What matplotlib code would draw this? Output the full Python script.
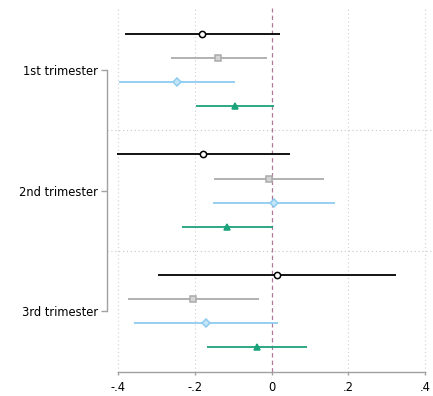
import matplotlib.pyplot as plt
import numpy as np

# coefficient plot, 3 trimesters x 4 models
groups = ['1st trimester', '2nd trimester', '3rd trimester']
offsets = [-0.3, -0.1, 0.1, 0.3]

est_m1 = [-0.180, -0.178, 0.015]
lo_m1 = [-0.382, -0.403, -0.295]
hi_m1 = [0.022, 0.048, 0.324]

est_m2 = [-0.139, -0.007, -0.204]
lo_m2 = [-0.263, -0.150, -0.373]
hi_m2 = [-0.012, 0.137, -0.034]

est_m3 = [-0.247, 0.006, -0.171]
lo_m3 = [-0.397, -0.153, -0.357]
hi_m3 = [-0.095, 0.165, 0.016]

est_m4 = [-0.096, -0.116, -0.038]
lo_m4 = [-0.197, -0.234, -0.167]
hi_m4 = [0.005, 0.003, 0.093]

xticks = [-0.4, -0.2, 0, 0.2, 0.4]
xticklabels = ['-.4', '-.2', '0', '.2', '.4']

series = [
    (est_m1, lo_m1, hi_m1, 'black', 'o', 'white'),
    (est_m2, lo_m2, hi_m2, '#ababab', 's', '#d4d4d4'),
    (est_m3, lo_m3, hi_m3, '#8dcbf1', 'D', '#c5e5f8'),
    (est_m4, lo_m4, hi_m4, '#1ba37b', '^', '#1ba37b'),
]

fig = plt.figure(figsize=(4.33, 3.96), dpi=100)
ax = fig.add_axes([0.247, 0.0606, 0.753, 0.919])

# grid
for xv in xticks:
    if xv != 0:
        ax.axvline(xv, color='#d0d0d0', lw=0.8, ls=(0, (1, 2.5)), zorder=0)
for yv in [1.5, 2.5]:
    ax.axhline(yv, color='#c8c8c8', lw=0.8, ls=(0, (1, 2.5)), zorder=0)
ax.axvline(0, color='#b07898', lw=0.9, ls=(0, (3.5, 2.5)), zorder=1)

centers = np.arange(1, len(groups) + 1)
for k, (est, lo, hi, col, mk, fc) in enumerate(series):
    y = centers + offsets[k]
    ax.hlines(y, lo, hi, color=col, lw=1.3, zorder=2)
    ms = 4.5 if mk != 'D' else 4
    ax.plot(est, y, ls='none', marker=mk, ms=ms, mfc=fc, mec=col, mew=1.1, zorder=3)

ax.set_xlim(-0.4287, 0.42)
ax.set_ylim(3.506, 0.485)

ax.set_xticks(xticks)
ax.set_xticklabels(xticklabels)
ax.set_yticks(centers)
ax.set_yticklabels(groups)

for s in ['top', 'right']:
    ax.spines[s].set_visible(False)
ax.spines['bottom'].set_bounds(-0.4, 0.4)
ax.spines['left'].set_bounds(1, 3)
for s in ['bottom', 'left']:
    ax.spines[s].set_color('#a0a0a0')
    ax.spines[s].set_linewidth(1.0)
ax.tick_params(axis='both', colors='#a0a0a0', labelcolor='black', labelsize=8.3, width=1.0)
ax.tick_params(axis='y', length=4, pad=2.5)
ax.tick_params(axis='x', length=2.2, pad=4)

fig.savefig('out.png', dpi=100)
